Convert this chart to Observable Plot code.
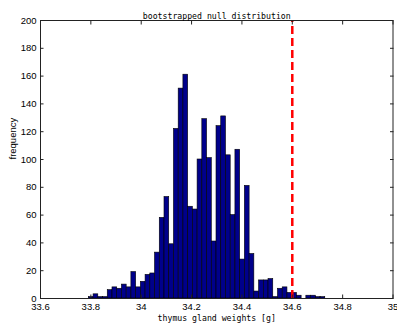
<!DOCTYPE html>
<html>
<head>
<meta charset="utf-8">
<script src="https://cdn.jsdelivr.net/npm/d3@7"></script>
<script src="https://cdn.jsdelivr.net/npm/@observablehq/plot@0.6"></script>
<style>
  html, body { margin: 0; padding: 0; background: #fff; }
  #chart svg { display: block; }
</style>
</head>
<body>
<div id="chart"></div>
<script>
// Histogram of bootstrapped null distribution (50 equal-width bins)
const binLow = 33.792;
const binHigh = 34.731;
const counts = [
  1, 3, 1, 1, 6, 8, 7, 10, 8, 19,
  8, 12, 17, 18, 33, 58, 73, 39, 122, 151,
  161, 66, 64, 100, 129, 101, 41, 124, 131, 103,
  60, 107, 28, 81, 32, 5, 13, 13, 14, 1,
  7, 8, 4, 4, 2, 0, 2, 2, 1, 1
];
const observed = [34.6];
const xTicks = [33.6, 33.8, 34, 34.2, 34.4, 34.6, 34.8, 35];
const xTickLabels = ["33.6", "33.8", "34", "34.2", "34.4", "34.6", "34.8", "35"];
const yTicks = [0, 20, 40, 60, 80, 100, 120, 140, 160, 180, 200];
const titleText = "bootstrapped null distribution";
const xLabel = "thymus gland weights [g]";
const yLabel = "frequency";

const binWidth = (binHigh - binLow) / counts.length;
const bins = counts.map((c, i) => ({x1: binLow + i * binWidth, x2: binLow + (i + 1) * binWidth, count: c}));

const sansFont = "'Liberation Sans', Arial, sans-serif";
const monoFont = "'DejaVu Sans Mono', 'Liberation Mono', monospace";

const chart = Plot.plot({
  width: 397,
  height: 324,
  marginLeft: 40,
  marginRight: 4.5,
  marginTop: 20,
  marginBottom: 26,
  style: {background: "#fff", color: "#000", fontFamily: sansFont, fontSize: "9.5px"},
  x: {domain: [33.6, 35]},
  y: {domain: [0, 200]},
  marks: [
    Plot.rectY(bins, {x1: "x1", x2: "x2", y: "count", fill: "#00008b", stroke: "#000", strokeWidth: 0.6}),
    Plot.ruleX(observed, {x: d => d, y1: 0, y2: 200, stroke: "#ff0000", strokeWidth: 2.5, strokeDasharray: "8,4"}),
    Plot.frame({stroke: "#222", strokeWidth: 1}),
    // inward ticks on all sides
    Plot.axisX(xTicks, {anchor: "bottom", tickSize: -3.5, fill: "none", label: null, stroke: "#222"}),
    Plot.axisX(xTicks, {anchor: "top", tickSize: -3.5, fill: "none", label: null, stroke: "#222"}),
    Plot.axisY(yTicks, {anchor: "left", tickSize: -3.5, fill: "none", label: null, stroke: "#222"}),
    Plot.axisY(yTicks, {anchor: "right", tickSize: -3.5, fill: "none", label: null, stroke: "#222"}),
    // tick labels
    Plot.axisX(xTicks, {anchor: "bottom", tickSize: 0, tickPadding: 5, label: null,
      tickFormat: d => xTickLabels[xTicks.indexOf(d)], fontSize: 9.5}),
    Plot.axisY(yTicks, {anchor: "left", tickSize: 0, tickPadding: 4, label: null, fontSize: 9.5}),
    // titles
    Plot.text([titleText], {frameAnchor: "top", dy: -7, text: d => d, fontFamily: monoFont, fontSize: 8.2, fill: "#000"}),
    Plot.text([xLabel], {frameAnchor: "bottom", dy: 22, text: d => d, fontFamily: monoFont, fontSize: 8.2, fill: "#000"}),
    Plot.text([yLabel], {frameAnchor: "left", dx: -28, rotate: -90, text: d => d, fontSize: 9.5, fill: "#000"})
  ]
});
document.getElementById("chart").appendChild(chart);
</script>
</body>
</html>
